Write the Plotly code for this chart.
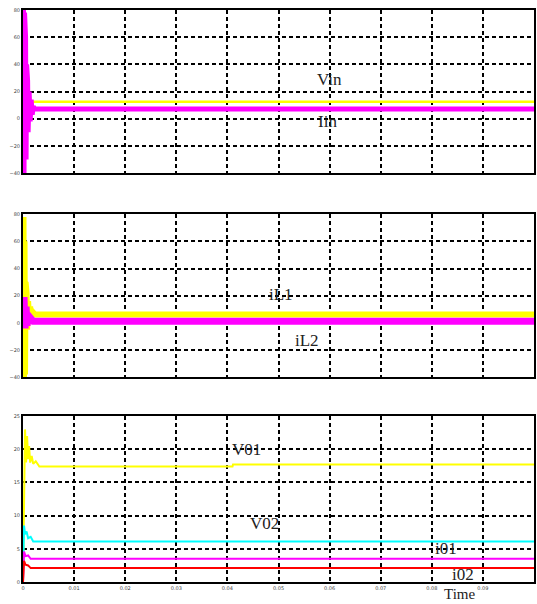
import plotly.graph_objects as go

# ---- time axis ----
x_ticks = [0, 0.01, 0.02, 0.03, 0.04, 0.05, 0.06, 0.07, 0.08, 0.09, 0.1]
x_labels = ["0", "0.01", "0.02", "0.03", "0.04", "0.05", "0.06", "0.07", "0.08", "0.09", "0.1"]

# ---- panel 1: input voltage and current ----
vin_t = [0, 0.1]
vin = [12.5, 12.5]
iin_t = [0, 0.0001, 0.0002, 0.0003, 0.0004, 0.0005, 0.0006, 0.0007, 0.0008, 0.0009,
         0.0010, 0.0012, 0.0014, 0.0016, 0.0018, 0.0020, 0.0023, 0.1]
iin = [0, 80, -40, 78, -38, 60, -30, 40, -22, 28, -10, 20, -2, 14, 3, 9, 7.2, 7.2]

# ---- panel 2: inductor currents ----
il1_t = [0, 0.0001, 0.0002, 0.0003, 0.0004, 0.0005, 0.0006, 0.0007, 0.0008, 0.0010,
         0.0012, 0.0014, 0.0016, 0.0019, 0.0023, 0.1]
il1 = [0, 78, -40, 60, -38, 30, -15, 22, -5, 16, 2, 12, 5, 8, 6.2, 6.2]
il2_t = [0, 0.0002, 0.0004, 0.0006, 0.0008, 0.0010, 0.0013, 0.0016, 0.0020, 0.1]
il2 = [0, 19, -4, 12, -2, 6, 0, 3, 1.2, 1.2]

# ---- panel 3: output voltages and currents ----
v01_t = [0, 0.0002, 0.0004, 0.0006, 0.0008, 0.0010, 0.0012, 0.0014, 0.0017, 0.0020,
         0.0025, 0.0032, 0.041, 0.0411, 0.1]
v01 = [0, 14, 23, 18, 22, 18.5, 20.5, 18, 19, 17.8, 18.2, 17.4, 17.4, 17.7, 17.7]
v02_t = [0, 0.0002, 0.0004, 0.0007, 0.0010, 0.0015, 0.0020, 0.1]
v02 = [0, 8.5, 7.2, 7.6, 6.6, 6.8, 6.1, 6.1]
i01_t = [0, 0.0002, 0.0005, 0.0010, 0.0015, 0.1]
i01 = [0, 4.6, 3.9, 4.0, 3.5, 3.5]
i02_t = [0, 0.0002, 0.0005, 0.0010, 0.0015, 0.1]
i02 = [0, 3.2, 2.6, 2.5, 2.1, 2.1]

YELLOW = "#ffff00"
MAGENTA = "#ff00ff"
CYAN = "#00ffff"
RED = "#ff0000"

fig = go.Figure()

def add_line(t, y, color, width, ax):
    fig.add_trace(go.Scatter(x=t, y=y, mode="lines", line=dict(color=color, width=width),
                             xaxis="x" + ax, yaxis="y" + ax, showlegend=False,
                             hoverinfo="skip"))

add_line(vin_t, vin, YELLOW, 2.5, "")
add_line(iin_t, iin, MAGENTA, 5, "")
add_line(il1_t, il1, YELLOW, 6, "2")
add_line(il2_t, il2, MAGENTA, 7, "2")
add_line(v01_t, v01, YELLOW, 2, "3")
add_line(v02_t, v02, CYAN, 2, "3")
add_line(i01_t, i01, MAGENTA, 2, "3")
add_line(i02_t, i02, RED, 2, "3")

grid = dict(showgrid=True, gridcolor="#000000", gridwidth=1.5, griddash="4px,3px",
            showline=True, linecolor="#000000", linewidth=2, mirror=True,
            zeroline=False, ticks="", tickfont=dict(size=5, color="#444444",
                                                    family="DejaVu Sans"))

def xaxis(anchor, show_labels):
    return dict(grid, range=[0, 0.1], tickvals=x_ticks, ticktext=x_labels,
                showticklabels=show_labels, anchor=anchor)

fig.update_layout(
    width=537, height=604,
    margin=dict(l=23, r=1, t=10, b=22),
    paper_bgcolor="#ffffff", plot_bgcolor="#ffffff",
    xaxis=xaxis("y", False),
    xaxis2=xaxis("y2", False),
    xaxis3=xaxis("y3", True),
    yaxis=dict(grid, domain=[0.715, 1.0], range=[-40, 80],
               tickvals=[-40, -20, 0, 20, 40, 60, 80], anchor="x"),
    yaxis2=dict(grid, domain=[0.358, 0.643], range=[-40, 80],
                tickvals=[-40, -20, 0, 20, 40, 60, 80], anchor="x2"),
    yaxis3=dict(grid, domain=[0.0, 0.290], range=[0, 25],
                tickvals=[0, 5, 10, 15, 20, 25], anchor="x3"),
)

label_font = dict(family="Liberation Serif", size=17, color="#222222")
labels = [
    ("Vin", 0.0600, 29, ""),
    ("Iin", 0.0595, -2, ""),
    ("iL1", 0.0505, 21, "2"),
    ("iL2", 0.0556, -13, "2"),
    ("V01", 0.0437, 20, "3"),
    ("V02", 0.0473, 8.8, "3"),
    ("i01", 0.0827, 5, "3"),
    ("i02", 0.0862, 1.2, "3"),
]
for text, xv, yv, ax in labels:
    fig.add_annotation(text=text, x=xv, y=yv, xref="x" + ax, yref="y" + ax,
                       showarrow=False, font=label_font)

# axis caption sits in the bottom margin, between the last tick labels
fig.add_annotation(text="Time", x=0.0855, y=0, xref="x3", yref="paper",
                   yanchor="bottom", yshift=-22, showarrow=False,
                   font=dict(family="Liberation Serif", size=15, color="#222222"))

fig.write_html("out.html")
